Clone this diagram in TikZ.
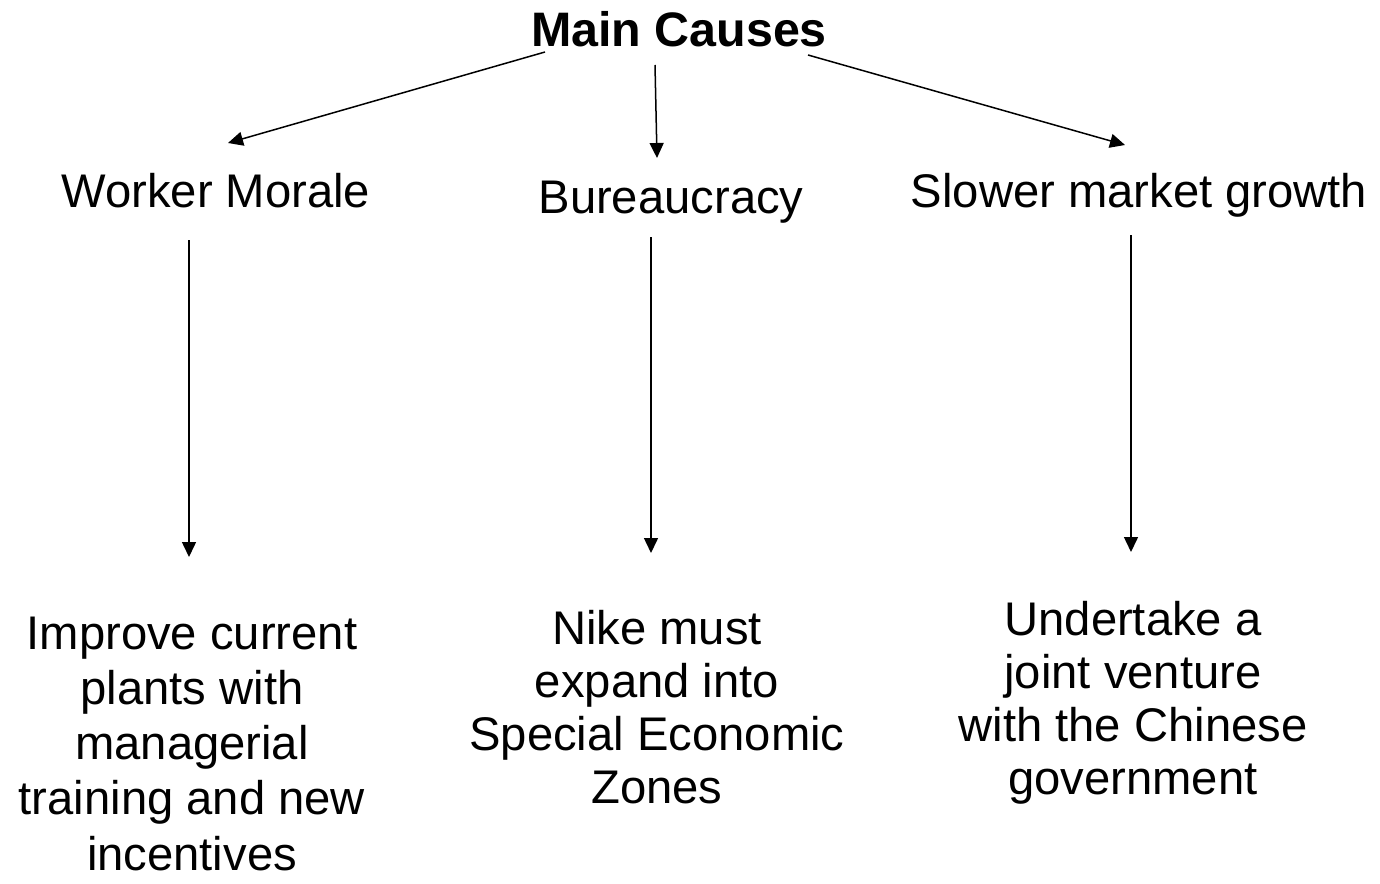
\documentclass[tikz,border=0pt]{standalone}
\usepackage{fontspec}
\setmainfont{Liberation Sans}
\usetikzlibrary{arrows.meta}
\begin{document}
\begin{tikzpicture}[x=0.5pt,y=-0.5pt,
  label text/.style={inner sep=0pt, font=\fontsize{23.6}{27.6}\selectfont},
  cause text/.style={label text, anchor=base},
  answer text/.style={label text, align=center, anchor=base},
  tight lines/.style={font=\fontsize{23.6}{26.4}\selectfont},
  link/.style={line width=0.75pt, -{Triangle[length=7.5pt,width=7pt]}}]
\useasboundingbox (0,0) rectangle (1380,883);

% heading and the three causes
\node[cause text, font=\fontsize{24.2}{28}\selectfont\bfseries] (main) at (679,47) {Main Causes};
\node[cause text] (morale) at (216,207) {Worker Morale};
\node[cause text] (bureau) at (671,213) {Bureaucracy};
\node[cause text] (market) at (1139,207) {Slower market growth};

% proposed responses (anchored at the baseline of the last line)
\node[answer text] (improve) at (192,870) {Improve current\\plants with\\managerial\\training and new\\incentives};
\node[answer text, tight lines] (nike) at (657,803) {Nike must\\expand into\\Special Economic\\Zones};
\node[answer text, tight lines] (venture) at (1133,794) {Undertake a\\joint venture\\with the Chinese\\government};

% connector end points
\coordinate (m1) at (545,52);
\coordinate (m1e) at (228,143);
\coordinate (m2) at (655,65);
\coordinate (m2e) at (657,158);
\coordinate (m3) at (808,55);
\coordinate (m3e) at (1125,145);
\coordinate (d1) at (189,240);
\coordinate (d1e) at (189,557);
\coordinate (d2) at (651,237);
\coordinate (d2e) at (651,553);
\coordinate (d3) at (1131,235);
\coordinate (d3e) at (1131,552);

\draw[link] (m1) -- (m1e);
\draw[link] (m2) -- (m2e);
\draw[link] (m3) -- (m3e);
\draw[link] (d1) -- (d1e);
\draw[link] (d2) -- (d2e);
\draw[link] (d3) -- (d3e);
\end{tikzpicture}
\end{document}
